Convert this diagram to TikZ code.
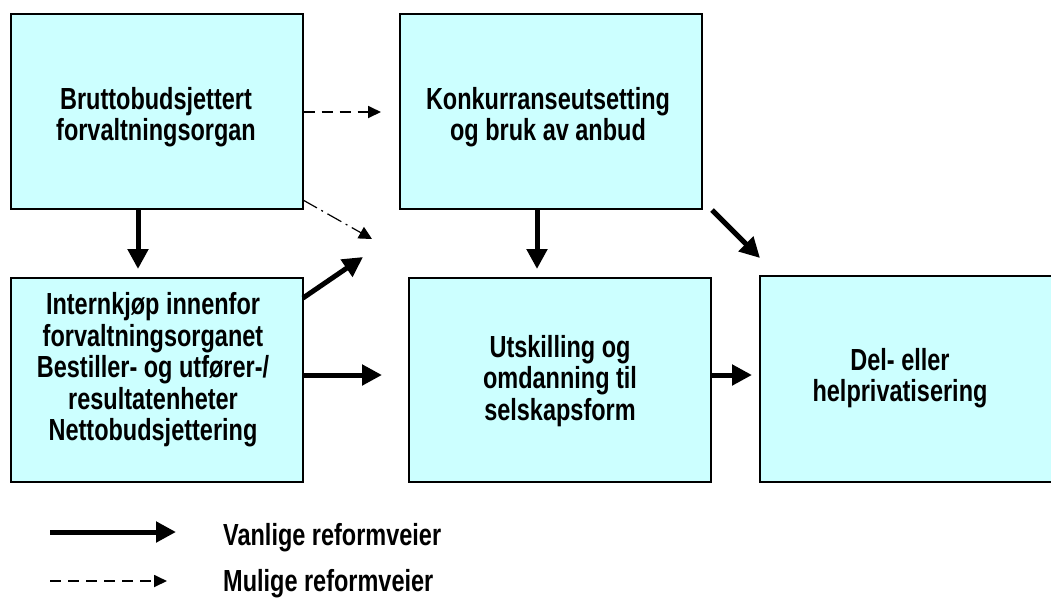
\documentclass[tikz,border=0pt]{standalone}
\usepackage{fontspec}
\setmainfont[FakeStretch=0.77]{Liberation Sans}
\usetikzlibrary{arrows.meta}
\definecolor{boxcyan}{HTML}{CCFFFF}
\tikzset{
  box/.style={draw=black, line width=1.3pt, fill=boxcyan, inner sep=0pt},
  boxtext/.style={align=center, font=\fontsize{30.5}{31.5}\selectfont\bfseries, inner sep=0pt},
  thickarrow/.style={line width=5pt, -{Triangle[length=20pt,width=20pt]}},
  dasharrow/.style={line width=1.8pt, dash pattern=on 11pt off 7pt,
    -{Triangle[length=13pt,width=12pt]}},
  dashdotarrow/.style={line width=1.2pt, dash pattern=on 16pt off 5pt on 2pt off 5pt,
    -{Triangle[length=13pt,width=13pt]}},
  legendtext/.style={anchor=west, font=\fontsize{30.5}{32}\selectfont\bfseries, inner sep=0pt}
}
\begin{document}
\begin{tikzpicture}[x=1pt,y=-1pt]
\useasboundingbox (0,0) rectangle (1051,598);
\node[box, minimum width=292pt, minimum height=195pt] (b1) at (157,111.5) {};
\node[box, minimum width=302pt, minimum height=195pt] (b2) at (551,111.5) {};
\node[box, minimum width=292pt, minimum height=204pt] (b3) at (157,380) {};
\node[box, minimum width=302pt, minimum height=204pt] (b4) at (560,380) {};
\node[box, minimum width=300pt, minimum height=206pt] (b5) at (910,379) {};

\node[boxtext] (t1) at (156,117) {Bruttobudsjettert\\forvaltningsorgan};
\node[boxtext] (t2) at (548,117) {Konkurranseutsetting\\og bruk av anbud};
\node[boxtext] (t3) at (153,370) {Internkjøp innenfor\\forvaltningsorganet\\Bestiller- og utfører-/\\resultatenheter\\Nettobudsjettering};
\node[boxtext] (t4) at (560,381) {Utskilling og\\omdanning til\\selskapsform};
\node[boxtext] (t5) at (900,378) {Del- eller\\helprivatisering};

\coordinate (c1) at (381,112);
\coordinate (c2) at (372,239);
\coordinate (c3) at (363,257);
\coordinate (c4) at (760,258);
\coordinate (c5) at (138,269);
\coordinate (c6) at (537,269);
\coordinate (c7) at (382,375);
\coordinate (c8) at (752,375);
\coordinate (s2) at (303,200);
\coordinate (s3) at (303,298);
\coordinate (s4) at (712,210);

\draw[dasharrow] (b1.east |- c1) -- (c1);
\draw[dashdotarrow] (s2) -- (c2);
\draw[thickarrow] (s3) -- (c3);
\draw[thickarrow] (s4) -- (c4);
\draw[thickarrow] (b1.south -| c5) -- (c5);
\draw[thickarrow] (b2.south -| c6) -- (c6);
\draw[thickarrow] (b3.east |- c7) -- (c7);
\draw[thickarrow] (b4.east |- c8) -- (c8);

% legend
\coordinate (l1a) at (50,532);
\coordinate (l1b) at (176,532);
\coordinate (l2a) at (50,581);
\coordinate (l2b) at (167,581);
\draw[thickarrow] (l1a) -- (l1b);
\draw[dasharrow] (l2a) -- (l2b);
\node[legendtext] (lt1) at (223,538) {Vanlige reformveier};
\node[legendtext] (lt2) at (223,584) {Mulige reformveier};
\end{tikzpicture}
\end{document}
